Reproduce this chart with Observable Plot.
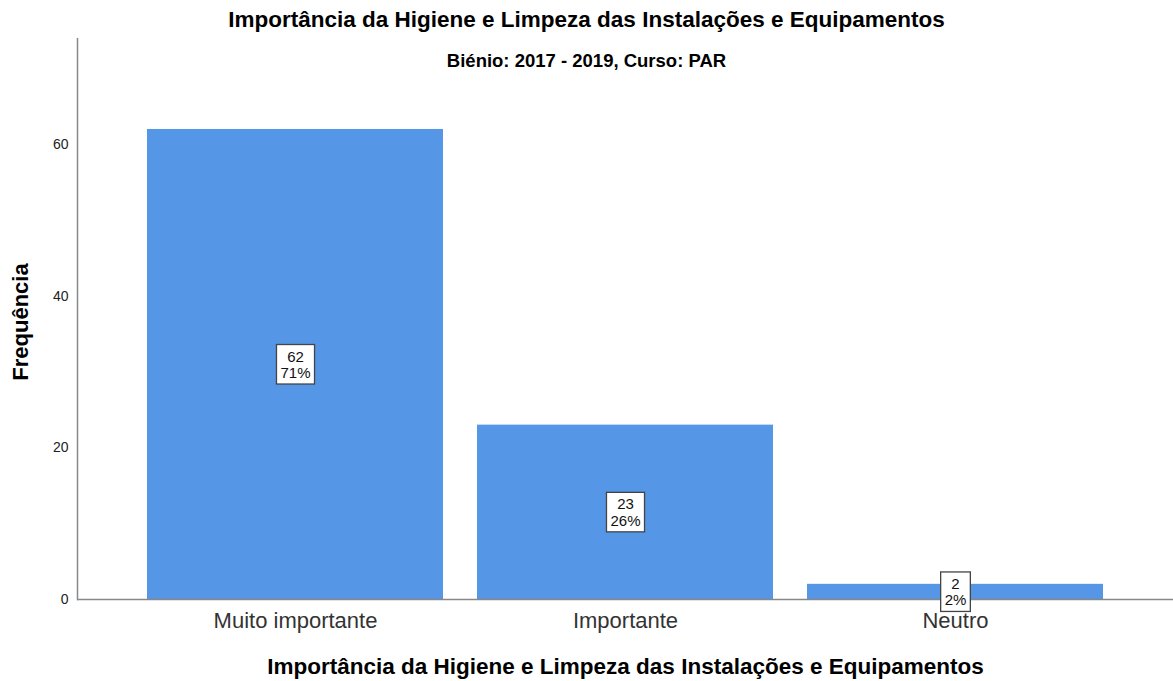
<!DOCTYPE html>
<html><head><meta charset="utf-8">
<script src="https://cdn.jsdelivr.net/npm/d3@7"></script>
<script src="https://cdn.jsdelivr.net/npm/@observablehq/plot@0.6"></script>
<style>
body{margin:0;background:#fff;font-family:"Liberation Sans",Arial,sans-serif;}
#title{height:38px;line-height:40px;text-align:center;font-weight:bold;font-size:22.5px;color:#000;width:1173px;}
</style></head>
<body>
<div id="title">Importância da Higiene e Limpeza das Instalações e Equipamentos</div>
<div id="chart"></div>
<script>
const categories = ["Muito importante", "Importante", "Neutro"];
const counts = [62, 23, 2];
const percents = ["71%", "26%", "2%"];
const yTicks = [0, 20, 40, 60];
const subtitle = "Biénio: 2017 - 2019, Curso: PAR";
const xLabel = "Importância da Higiene e Limpeza das Instalações e Equipamentos";
const yLabel = "Frequência";

const data = categories.map((c, i) => ({cat: c, n: counts[i], label: counts[i] + "\n" + percents[i]}));

const plot = Plot.plot({
  width: 1173, height: 643,
  marginTop: 0, marginBottom: 82, marginLeft: 77, marginRight: 0,
  style: {fontFamily: "'Liberation Sans', Arial, sans-serif", background: "#fff"},
  x: {domain: categories, paddingInner: 0.103, paddingOuter: 0.212, label: null},
  y: {domain: [0, 74], label: null},
  marks: [
    Plot.barY(data, {x: "cat", y: "n", fill: "#5596E6"}),
    Plot.ruleY([0], {stroke: "#888", strokeWidth: 1.5}),
    Plot.frame({anchor: "left", stroke: "#888", strokeWidth: 1.5}),
    Plot.axisY({ticks: yTicks, tickSize: 0, tickPadding: 9, fontSize: 14, label: null, fill: "#222"}),
    Plot.axisX({tickSize: 0, tickPadding: 13, fontSize: 22, label: null, fill: "#333"}),
    Plot.text(data, {x: "cat", y: d => d.n / 2, text: "label", fontSize: 15, lineHeight: 1.1, fill: "#111", className: "vlabel"}),
    Plot.text([subtitle], {frameAnchor: "top", dx: -39, dy: 15, fontSize: 18.5, fontWeight: "bold", fill: "#000"}),
    Plot.text([xLabel], {frameAnchor: "bottom", dy: 74, fontSize: 22.5, fontWeight: "bold", fill: "#000"}),
    Plot.text([yLabel], {frameAnchor: "left", textAnchor: "middle", dx: -57, dy: 3, rotate: -90, fontSize: 22, fontWeight: "bold", fill: "#000"})
  ]
});
document.getElementById("chart").appendChild(plot);

// boxes behind value labels
d3.select(plot).selectAll(".vlabel text").each(function() {
  const b = this.getBBox();
  const padX = 4, padY = 3;
  const r = document.createElementNS("http://www.w3.org/2000/svg", "rect");
  r.setAttribute("x", b.x - padX);
  r.setAttribute("y", b.y - padY);
  r.setAttribute("width", b.width + 2 * padX);
  r.setAttribute("height", b.height + 2 * padY);
  r.setAttribute("fill", "#fff");
  r.setAttribute("stroke", "#444");
  r.setAttribute("stroke-width", 1.3);
  const t = this.getAttribute("transform");
  if (t) r.setAttribute("transform", t);
  this.parentNode.insertBefore(r, this);
});
</script>
</body></html>
